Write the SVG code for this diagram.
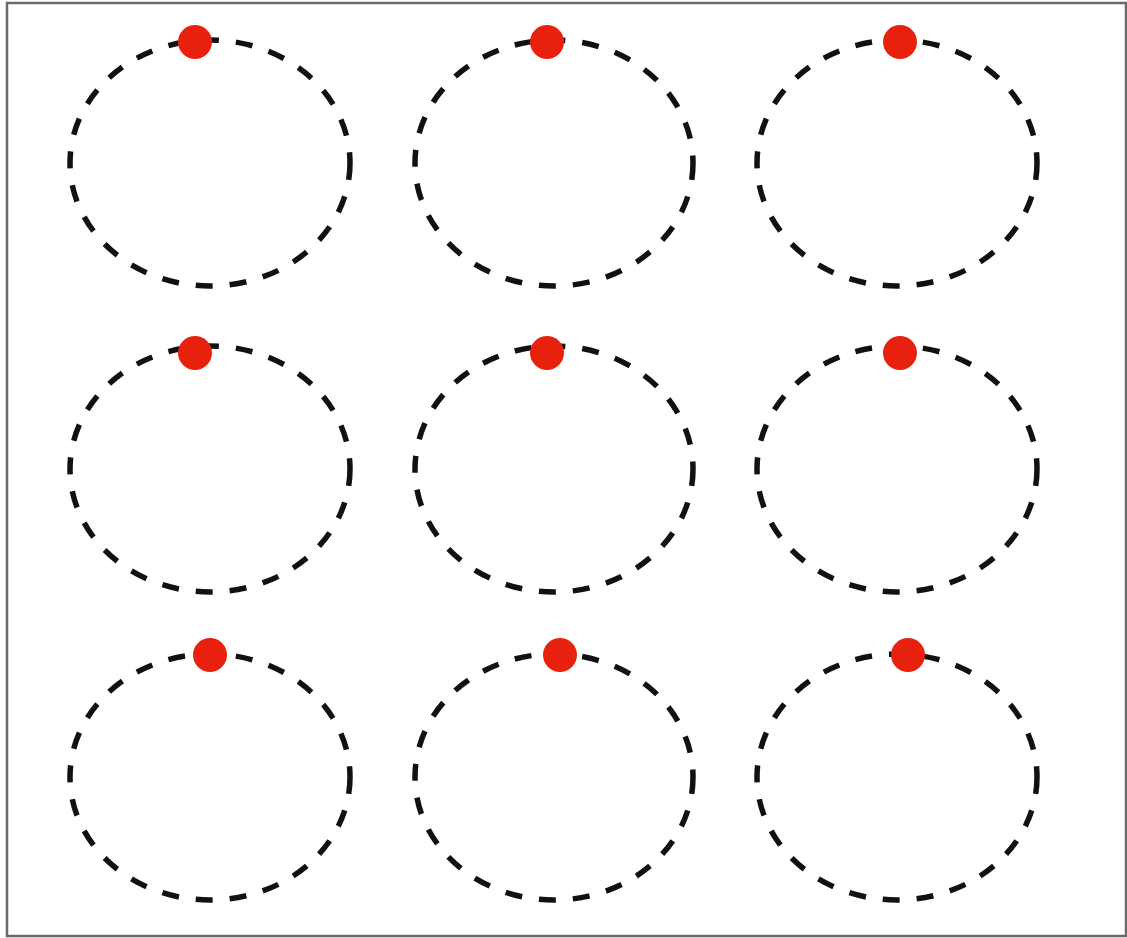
<svg xmlns="http://www.w3.org/2000/svg" width="1127" height="938" viewBox="0 0 1127 938">
<style>
.ring{fill:none;stroke:#111;stroke-width:5.5;stroke-dasharray:17 17}
.dot{fill:#e8200e}
</style>
<rect x="0" y="0" width="1127" height="938" fill="#fff"/>
<rect x="7" y="3" width="1119" height="933" fill="none" stroke="#6a6a6a" stroke-width="2.5"/>
<g id="n1"><ellipse class="ring" cx="210" cy="163" rx="140" ry="123"/><circle class="dot" cx="195" cy="42" r="17"/></g>
<g id="n2"><ellipse class="ring" cx="554" cy="163" rx="139" ry="123"/><circle class="dot" cx="547" cy="42" r="17"/></g>
<g id="n3"><ellipse class="ring" cx="897" cy="163" rx="140" ry="123"/><circle class="dot" cx="900" cy="42" r="17"/></g>
<g id="n4"><ellipse class="ring" cx="210" cy="469" rx="140" ry="123"/><circle class="dot" cx="195" cy="353" r="17"/></g>
<g id="n5"><ellipse class="ring" cx="554" cy="469" rx="139" ry="123"/><circle class="dot" cx="547" cy="353" r="17"/></g>
<g id="n6"><ellipse class="ring" cx="897" cy="469" rx="140" ry="123"/><circle class="dot" cx="900" cy="353" r="17"/></g>
<g id="n7"><ellipse class="ring" cx="210" cy="777" rx="140" ry="123"/><circle class="dot" cx="210" cy="655" r="17"/></g>
<g id="n8"><ellipse class="ring" cx="554" cy="777" rx="139" ry="123"/><circle class="dot" cx="560" cy="655" r="17"/></g>
<g id="n9"><ellipse class="ring" cx="897" cy="777" rx="140" ry="123"/><circle class="dot" cx="908" cy="655" r="17"/></g>
<g id="connectors"></g>
</svg>
